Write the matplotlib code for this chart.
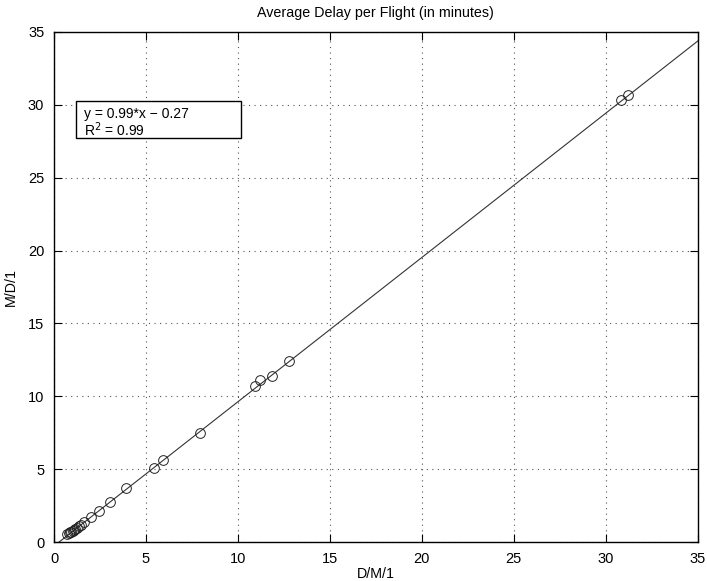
import matplotlib
matplotlib.use("Agg")
import matplotlib.pyplot as plt
from matplotlib.patches import Rectangle

plt.rcParams['font.family'] = ['Liberation Sans', 'DejaVu Sans']

# average delay per flight, D/M/1 model vs M/D/1 model (minutes)
dm1 = [0.72, 0.80, 0.87, 0.94, 1.01, 1.08, 1.16, 1.24, 1.34, 1.48, 1.62,
       2.00, 2.43, 3.05, 3.94, 5.43, 5.90, 7.92,
       10.95, 11.19, 11.83, 12.77, 30.85, 31.20]
md1 = [0.55, 0.61, 0.67, 0.72, 0.79, 0.85, 0.92, 0.99, 1.07, 1.20, 1.38,
       1.75, 2.16, 2.73, 3.73, 5.07, 5.66, 7.50,
       10.68, 11.14, 11.41, 12.44, 30.35, 30.68]

slope = 0.99
intercept = -0.27
r2 = 0.99
fit_x = [0, 35]
fit_y = [slope * v + intercept for v in fit_x]

fig = plt.figure(figsize=(7.07, 5.81), dpi=100)
ax = fig.add_axes([0.0764, 0.067, 0.9106, 0.878])

ax.plot(fit_x, fit_y, color='#333333', linewidth=0.8)
ax.plot(dm1, md1, 'o', markerfacecolor='none', markeredgecolor='#222222',
        markersize=7, markeredgewidth=0.7)

ax.set_xlim(0, 35)
ax.set_ylim(0, 35)
ax.set_xticks(range(0, 36, 5))
ax.set_yticks(range(0, 36, 5))
ax.grid(True, color='#555555', linestyle=(0, (1, 4)), linewidth=0.8)
ax.tick_params(direction='in', top=True, right=True, length=6,
               labelsize=10.5, pad=7)
for s in ax.spines.values():
    s.set_linewidth(1.0)

ax.set_title('Average Delay per Flight (in minutes)', fontsize=10.3, pad=11)
ax.set_xlabel('D/M/1', fontsize=10.3, labelpad=1)
ax.set_ylabel('M/D/1', fontsize=10.3, labelpad=7)

# regression summary box
ax.add_patch(Rectangle((0.034, 0.793), 0.257, 0.071, transform=ax.transAxes,
                       facecolor='white', edgecolor='black', linewidth=1.0,
                       zorder=3))
ax.text(0.046, 0.840, 'y = %.2f*x \u2212 %.2f' % (slope, -intercept),
        transform=ax.transAxes, fontsize=10, va='center', zorder=4)
ax.text(0.046, 0.808, 'R$^2$ = %.2f' % r2,
        transform=ax.transAxes, fontsize=10, va='center', zorder=4)

fig.savefig('out.png', dpi=100)
